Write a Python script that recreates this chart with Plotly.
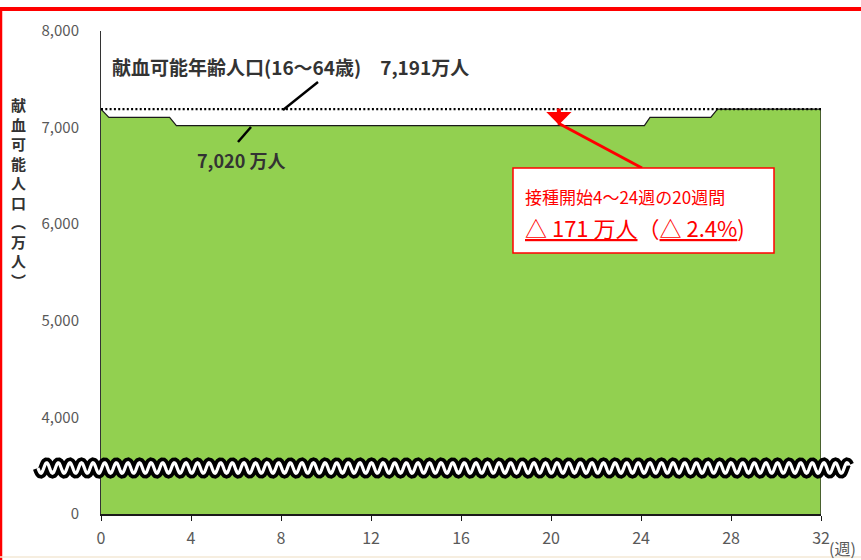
import numpy as np
import plotly.graph_objects as go

# Blood-donation-eligible population (unit: 10k persons) by week after vaccination start
weeks = [0, 0.35, 3.05, 3.35, 24.15, 24.4, 27.1, 27.4, 32]
population = [7191, 7105, 7105, 7020, 7020, 7105, 7105, 7191, 7191]

POP_TOTAL = 7191      # population aged 16-64
POP_MIN = 7020        # lowest level during weeks 4-24
ARROW_WEEK = 20.35    # where the decrease is marked

x_ticks = [0, 4, 8, 12, 16, 20, 24, 28, 32]
# the 3000 slot carries the "0" label below the axis break
y_ticks = [3000, 4000, 5000, 6000, 7000, 8000]
y_tick_text = ["0", "4,000", "5,000", "6,000", "7,000", "8,000"]

FONT = "Noto Sans CJK JP"
GREEN = "#92D050"
RED = "#FF0000"
INK = "#333333"
GREY = "#595959"

W, H = 861, 560
PLOT_L, PLOT_R, PLOT_T, PLOT_B = 101, 821, 31, 514


def fx(px):
    """pixel column -> paper x"""
    return (px - PLOT_L) / (PLOT_R - PLOT_L)


def fy(py):
    """pixel row -> paper y"""
    return (PLOT_B - py) / (PLOT_B - PLOT_T)


fig = go.Figure()

# green area, closed down to the base at both ends
fig.add_trace(go.Scatter(
    x=weeks + [weeks[-1], weeks[0]],
    y=population + [0, 0],
    mode="lines", fill="toself", fillcolor=GREEN,
    line=dict(color="#1a1a1a", width=1.2),
    hoverinfo="skip", showlegend=False,
))

# dotted reference line at the full 16-64 population
fig.add_trace(go.Scatter(
    x=[weeks[0], weeks[-1]], y=[POP_TOTAL, POP_TOTAL],
    mode="lines", line=dict(color="#000000", width=2.2, dash="2px,2.3px"),
    hoverinfo="skip", showlegend=False,
))

shapes = []

# leader lines for the two value labels
shapes.append(dict(type="line", xref="paper", yref="paper",
                   x0=fx(283), y0=fy(110), x1=fx(318), y1=fy(82),
                   line=dict(color="#000000", width=2.5)))
shapes.append(dict(type="line", xref="paper", yref="paper",
                   x0=fx(251), y0=fy(127), x1=fx(238), y1=fy(142),
                   line=dict(color="#000000", width=2.5)))

# red connector from the arrow to the callout box
shapes.append(dict(type="line", xref="paper", yref="paper",
                   x0=fx(558), y0=fy(123), x1=fx(642), y1=fy(168),
                   line=dict(color=RED, width=3)))

# callout box
shapes.append(dict(type="rect", xref="paper", yref="paper",
                   x0=fx(513), y0=fy(168), x1=fx(774), y1=fy(253),
                   fillcolor="white", line=dict(color=RED, width=1.5)))

# axis-break wave: thick black band with a white core
wx = np.arange(38, 849.01, 0.5)
wy = 468 + 5.2 * np.sin(2 * np.pi * (wx - 38) / 11.6)
wave_path = "M " + " L ".join(f"{fx(a):.5f},{fy(b):.5f}" for a, b in zip(wx, wy))
shapes.append(dict(type="path", xref="paper", yref="paper", path=wave_path,
                   line=dict(color="#000000", width=10.5)))
shapes.append(dict(type="path", xref="paper", yref="paper", path=wave_path,
                   line=dict(color="#FFFFFF", width=3.2)))

# red frame (top and left) and faint bottom rule
shapes.append(dict(type="line", xref="paper", yref="paper",
                   x0=fx(0), y0=fy(9), x1=fx(W), y1=fy(9),
                   line=dict(color=RED, width=4)))
shapes.append(dict(type="line", xref="paper", yref="paper",
                   x0=fx(1), y0=fy(9), x1=fx(1), y1=fy(H),
                   line=dict(color=RED, width=2.5)))
shapes.append(dict(type="line", xref="paper", yref="paper",
                   x0=fx(0), y0=fy(557), x1=fx(W), y1=fy(557),
                   line=dict(color="#F3E9D6", width=1.5)))

drop = POP_TOTAL - POP_MIN
drop_pct = drop / POP_TOTAL * 100

annotations = [
    dict(xref="paper", yref="paper", x=fx(110), y=fy(66),
         xanchor="left", yanchor="middle", showarrow=False,
         text=f"<b>献血可能年齢人口(16～64歳)\u3000{POP_TOTAL:,}万人</b>",
         font=dict(family=FONT, size=19, color=INK)),
    dict(xref="paper", yref="paper", x=fx(195), y=fy(160),
         xanchor="left", yanchor="middle", showarrow=False,
         text=f"<b>{POP_MIN:,} 万人</b>",
         font=dict(family=FONT, size=18, color=INK)),
    dict(xref="paper", yref="paper", x=fx(523), y=fy(196),
         xanchor="left", yanchor="middle", showarrow=False,
         text="接種開始4～24週の20週間",
         font=dict(family=FONT, size=17, color=RED)),
    dict(xref="paper", yref="paper", x=fx(523), y=fy(227),
         xanchor="left", yanchor="middle", showarrow=False,
         text=f"<u>△ {drop} 万人</u>（<u>△ {drop_pct:.1f}%</u>)",
         font=dict(family=FONT, size=22, color=RED)),
    # stacked vertical axis title
    dict(xref="paper", yref="paper", x=fx(18), y=fy(193),
         xanchor="center", yanchor="middle", showarrow=False,
         text="<b>" + "<br>".join(list("献血可能人口︵万人︶")) + "</b>",
         font=dict(family=FONT, size=15, color=INK)),
    dict(xref="paper", yref="paper", x=fx(843), y=fy(548),
         xanchor="center", yanchor="middle", showarrow=False,
         text="(週)", font=dict(family=FONT, size=16, color=GREY)),
    # red arrow marking the drop from the full population to the minimum
    dict(x=ARROW_WEEK, y=POP_MIN, xref="x", yref="y",
         ax=ARROW_WEEK, ay=POP_TOTAL + 22, axref="x", ayref="y",
         showarrow=True, arrowhead=1, arrowsize=1.05, arrowwidth=4,
         arrowcolor=RED, text="", standoff=1),
]

fig.update_layout(
    width=W, height=H,
    margin=dict(l=PLOT_L, r=W - PLOT_R, t=PLOT_T, b=H - PLOT_B),
    paper_bgcolor="white", plot_bgcolor="white",
    font=dict(family=FONT, color=GREY),
    showlegend=False,
    shapes=shapes,
    annotations=annotations,
    xaxis=dict(range=[0, 32], tickvals=x_ticks, showgrid=False, zeroline=False,
               showline=True, linecolor="#1a1a1a", linewidth=1.5,
               ticks="outside", ticklen=5, tickwidth=1.2, tickcolor="#1a1a1a",
               ticklabelstandoff=4,
               tickfont=dict(family=FONT, size=16, color=GREY),
               fixedrange=True),
    yaxis=dict(range=[3000, 8000], tickvals=y_ticks, ticktext=y_tick_text,
               showgrid=False, zeroline=False,
               showline=True, linecolor="#333333", linewidth=1,
               ticks="", ticklabelstandoff=18,
               tickfont=dict(family=FONT, size=15, color=GREY),
               fixedrange=True),
)

fig.write_html("out.html")
